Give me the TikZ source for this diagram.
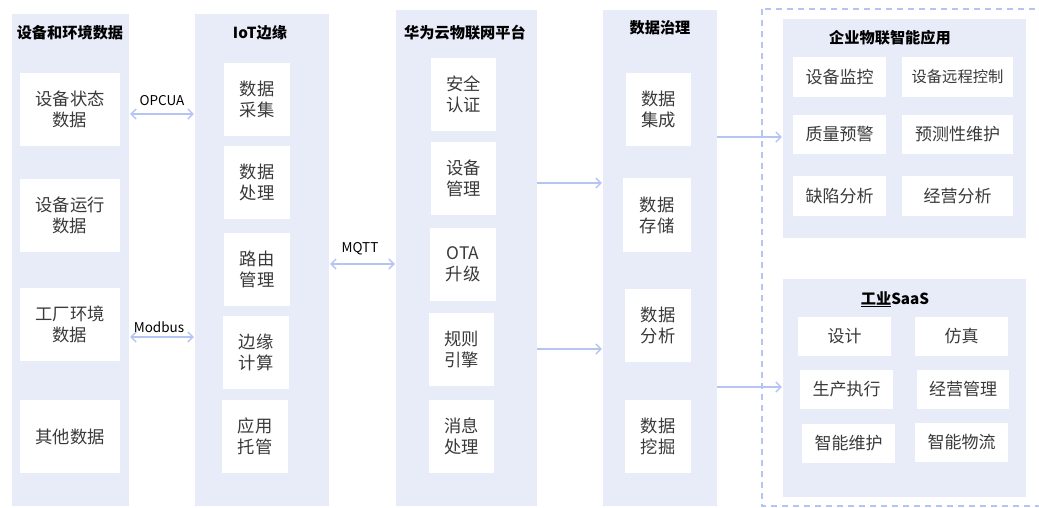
\documentclass[tikz,border=0pt]{standalone}
\usepackage{fontspec}
\setmainfont{Noto Sans CJK SC}
\usetikzlibrary{arrows.meta}
\definecolor{panelc}{HTML}{E8EBF8}
\definecolor{arrc}{HTML}{B6C4F4}
\definecolor{txtc}{HTML}{3A3A3A}
\tikzset{
  panel/.style={fill=panelc, draw=none, inner sep=0pt},
  box/.style={fill=white, draw=none, inner sep=0pt, align=center, text=txtc,
    font=\fontsize{17.3}{21}\selectfont},
  sbox/.style={fill=white, draw=none, inner sep=0pt, align=center, text=txtc,
    font=\fontsize{17}{20}\selectfont},
  ttl/.style={font=\fontsize{15.2}{18}\selectfont\bfseries, text=black, inner sep=0pt},
  lbl/.style={font=\fontsize{13.5}{15}\selectfont, text=black, inner sep=0pt},
  arr/.style={draw=arrc, line width=1.4pt, -{Straight Barb[length=5pt,width=10pt]}},
  darr/.style={draw=arrc, line width=1.4pt, {Straight Barb[length=5pt,width=10pt]}-{Straight Barb[length=5pt,width=10pt]}},
}
\begin{document}
\begin{tikzpicture}[x=1pt,y=-1pt]
\useasboundingbox (0,0) rectangle (1039,507);
\fill[white] (0,0) rectangle (1039,507);

% column 1
\node[panel, minimum width=117pt, minimum height=492pt] (p1) at (70.5,260) {};
\node[ttl] (t1) at (70,33) {设备和环境数据};
\node[box, minimum width=100pt, minimum height=73pt] (b1) at (70,109.5) {设备状态\\数据};
\node[box, minimum width=100pt, minimum height=73pt] (b2) at (70,215.5) {设备运行\\数据};
\node[box, minimum width=100pt, minimum height=73pt] (b3) at (70,324.5) {工厂环境\\数据};
\node[box, minimum width=100pt, minimum height=73pt] (b4) at (70,436.5) {其他数据};

% column 2
\node[panel, minimum width=134pt, minimum height=492pt] (p2) at (262,260) {};
\node[ttl] (t2) at (260,33) {IoT边缘};
\node[box, minimum width=66pt, minimum height=73pt] (e1) at (257,99.5) {数据\\采集};
\node[box, minimum width=66pt, minimum height=73pt] (e2) at (257,182.5) {数据\\处理};
\node[box, minimum width=66pt, minimum height=73pt] (e3) at (257,269.5) {路由\\管理};
\node[box, minimum width=66pt, minimum height=73pt] (e4) at (256,352.5) {边缘\\计算};
\node[box, minimum width=66pt, minimum height=73pt] (e5) at (255,436.5) {应用\\托管};

% column 3
\node[panel, minimum width=141pt, minimum height=496pt] (p3) at (466.5,258) {};
\node[ttl] (t3) at (465,33) {华为云物联网平台};
\node[box, minimum width=65pt, minimum height=73pt] (h1) at (463.5,94.5) {安全\\认证};
\node[box, minimum width=65pt, minimum height=73pt] (h2) at (463.5,178.5) {设备\\管理};
\node[box, minimum width=66pt, minimum height=73pt] (h3) at (463,264.5) {OTA\\升级};
\node[box, minimum width=65pt, minimum height=73pt] (h4) at (461.5,349.5) {规则\\引擎};
\node[box, minimum width=65pt, minimum height=73pt] (h5) at (461.5,436.5) {消息\\处理};

% column 4
\node[panel, minimum width=114pt, minimum height=496pt] (p4) at (660,258) {};
\node[ttl] (t4) at (660,28) {数据治理};
\node[box, minimum width=65pt, minimum height=73pt] (d1) at (658.5,109.5) {数据\\集成};
\node[box, minimum width=68pt, minimum height=74pt] (d2) at (657,215) {数据\\存储};
\node[box, minimum width=66pt, minimum height=73pt] (d3) at (658,325.5) {数据\\分析};
\node[box, minimum width=66pt, minimum height=73pt] (d4) at (658,436.5) {数据\\挖掘};

% dashed outer frame
\draw[arrc, line width=1.3pt, dash pattern=on 6pt off 5pt] (762,9) rectangle (1045,506);

% panel 5
\node[panel, minimum width=243pt, minimum height=219pt] (p5) at (904.5,128.5) {};
\node[ttl] (t5) at (890,38) {企业物联智能应用};
\node[sbox, minimum width=93pt, minimum height=40pt] (a1) at (839.5,77) {设备监控};
\node[sbox, minimum width=111pt, minimum height=40pt, font=\fontsize{15.3}{18}\selectfont] (a2) at (957.5,77) {设备远程控制};
\node[sbox, minimum width=93pt, minimum height=39pt] (a3) at (839.5,134.5) {质量预警};
\node[sbox, minimum width=111pt, minimum height=39pt] (a4) at (957.5,134.5) {预测性维护};
\node[sbox, minimum width=93pt, minimum height=40pt] (a5) at (839.5,196) {缺陷分析};
\node[sbox, minimum width=111pt, minimum height=40pt] (a6) at (957.5,196) {经营分析};

% panel 6
\node[panel, minimum width=243pt, minimum height=218pt] (p6) at (904.5,388) {};
\node[ttl] (t6) at (895,299) {\underline{工业}SaaS};
\node[sbox, minimum width=93pt, minimum height=39pt] (s1) at (844.5,336.5) {设计};
\node[sbox, minimum width=93pt, minimum height=39pt] (s2) at (961.5,336.5) {仿真};
\node[sbox, minimum width=93pt, minimum height=39pt] (s3) at (846.5,389.5) {生产执行};
\node[sbox, minimum width=92pt, minimum height=39pt] (s4) at (963,389.5) {经营管理};
\node[sbox, minimum width=93pt, minimum height=39pt] (s5) at (848.5,443.5) {智能维护};
\node[sbox, minimum width=93pt, minimum height=39pt] (s6) at (961.5,442.5) {智能物流};

% connector heights
\coordinate (yA) at (0,114);
\coordinate (yB) at (0,337);
\coordinate (yC) at (0,264);
\coordinate (yD) at (0,183);
\coordinate (yE) at (0,349);
\coordinate (yF) at (0,137);
\coordinate (yG) at (0,387);

\draw[darr, shorten <=1pt, shorten >=1pt] (p1.east |- yA) -- (p2.west |- yA);
\draw[darr, shorten <=1pt, shorten >=1pt] (p1.east |- yB) -- (p2.west |- yB);
\draw[darr, shorten <=1pt, shorten >=1pt] (p2.east |- yC) -- (p3.west |- yC);
\draw[arr, shorten >=1pt] (p3.east |- yD) -- (p4.west |- yD);
\draw[arr, shorten >=1pt] (p3.east |- yE) -- (p4.west |- yE);
\draw[arr, shorten >=1pt] (p4.east |- yF) -- (p5.west |- yF);
\draw[arr, shorten >=1pt] (p4.east |- yG) -- (p6.west |- yG);

\node[lbl] (l1) at (162,101) {OPCUA};
\node[lbl] (l2) at (159,327) {Modbus};
\node[lbl] (l3) at (360,249) {MQTT};
\end{tikzpicture}
\end{document}
